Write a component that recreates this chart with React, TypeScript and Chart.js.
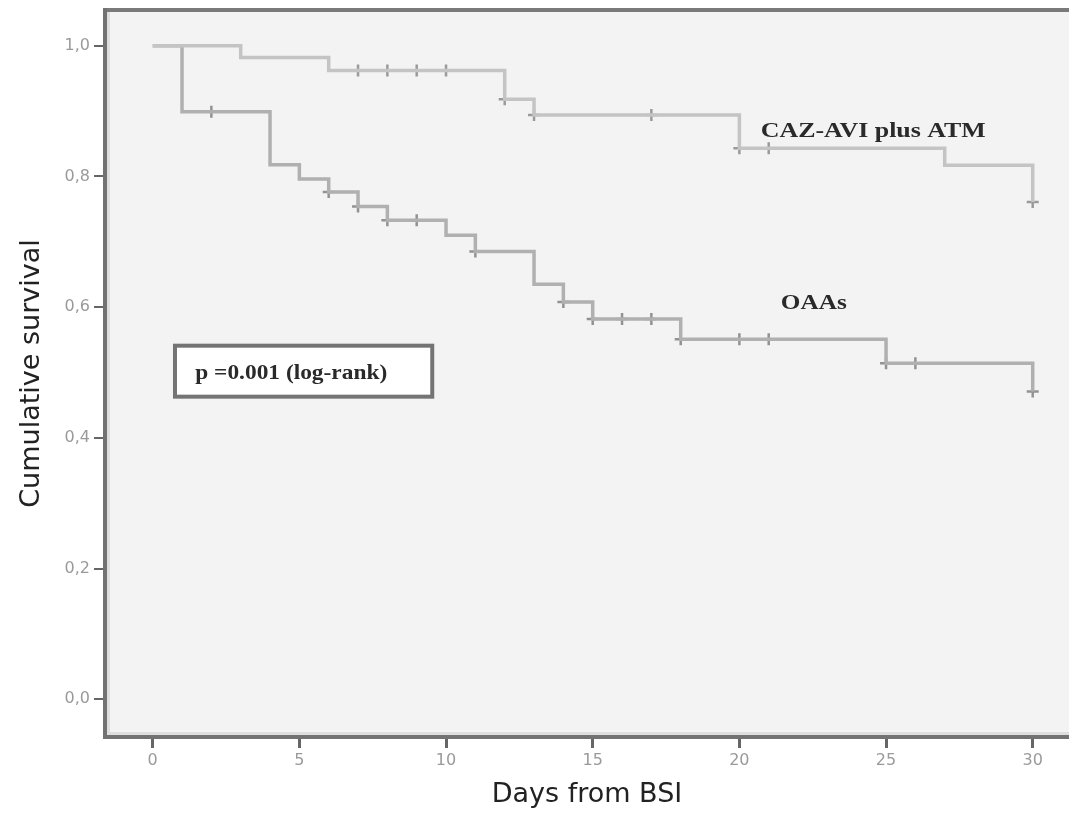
import React, { useEffect, useRef } from 'react';
import { Chart, registerables } from 'chart.js';

Chart.register(...registerables);

// ---- Data ----
const X_TICKS = [0, 5, 10, 15, 20, 25, 30];
const Y_TICKS = [0, 0.2, 0.4, 0.6, 0.8, 1.0];

const CAZ_TIMES = [0, 3, 6, 12, 13, 20, 27, 30];
const CAZ_SURV = [1.0, 0.982, 0.962, 0.918, 0.894, 0.843, 0.817, 0.761];
const CAZ_CENSORED = [7, 8, 9, 10, 12, 13, 17, 20, 21, 30];

const OAA_TIMES = [0, 1, 4, 5, 6, 7, 8, 10, 11, 13, 14, 15, 18, 25, 30];
const OAA_SURV = [1.0, 0.899, 0.818, 0.796, 0.776, 0.754, 0.733, 0.71, 0.685, 0.635, 0.608, 0.582, 0.551, 0.514, 0.471];
const OAA_CENSORED = [2, 6, 7, 8, 9, 11, 14, 15, 16, 17, 18, 20, 21, 25, 26, 30];

const CAZ_LABEL = 'CAZ-AVI plus ATM';
const OAA_LABEL = 'OAAs';
const P_LABEL = 'p =0.001 (log-rank)';
const X_TITLE = 'Days from BSI';
const Y_TITLE = 'Cumulative survival';

// ---- Layout / style constants ----
const W = 1069;
const H = 815;
const X_MIN = -1.626;
const X_MAX = 31.237;
const Y_MIN = -0.0577;
const Y_MAX = 1.0546;

function survAt(times: number[], surv: number[], t: number): number {
  let v = surv[0];
  for (let i = 0; i < times.length; i++) {
    if (times[i] <= t) v = surv[i];
  }
  return v;
}

function drawStretched(
  ctx: CanvasRenderingContext2D,
  text: string,
  x: number,
  y: number,
  font: string,
  width: number,
  color: string
) {
  ctx.save();
  ctx.font = font;
  ctx.fillStyle = color;
  ctx.textAlign = 'left';
  ctx.textBaseline = 'alphabetic';
  const w = ctx.measureText(text).width;
  ctx.translate(x, y);
  ctx.scale(width / w, 1);
  ctx.fillText(text, 0, 0);
  ctx.restore();
}

const framePlugin = {
  id: 'kmFrame',
  beforeDraw(chart: any) {
    const { ctx, chartArea: a } = chart;
    ctx.save();
    ctx.fillStyle = '#f3f3f3';
    ctx.fillRect(a.left, a.top, a.right - a.left, a.bottom - a.top);
    ctx.fillStyle = '#dedede';
    ctx.fillRect(a.left + 1, a.top, 4, a.bottom - a.top);
    ctx.fillRect(a.left, a.bottom - 5, a.right - a.left, 4);
    ctx.strokeStyle = '#7a7a7a';
    ctx.lineWidth = 4;
    ctx.beginPath();
    ctx.moveTo(a.left - 2, a.top);
    ctx.lineTo(a.right, a.top);
    ctx.stroke();
    ctx.restore();
  },
  afterDatasetsDraw(chart: any) {
    const { ctx } = chart;
    const xs = chart.scales.x;
    const ys = chart.scales.y;
    const px = (v: number) => xs.getPixelForValue(v);
    const py = (v: number) => ys.getPixelForValue(v);

    // p-value box
    const bx0 = px(0.76), bx1 = px(9.53);
    const by0 = py(0.541), by1 = py(0.463);
    ctx.save();
    ctx.fillStyle = '#ffffff';
    ctx.fillRect(bx0, by0, bx1 - bx0, by1 - by0);
    ctx.strokeStyle = '#747474';
    ctx.lineWidth = 4;
    ctx.strokeRect(bx0, by0, bx1 - bx0, by1 - by0);
    ctx.restore();
    drawStretched(ctx, P_LABEL, px(1.45), py(0.4893), 'bold 20px "Liberation Serif"', 192, '#2a2a2a');

    // curve labels
    drawStretched(ctx, CAZ_LABEL, px(20.73), py(0.8596), 'bold 22px "Liberation Serif"', 225, '#2a2a2a');
    drawStretched(ctx, OAA_LABEL, px(21.41), py(0.5964), 'bold 22px "Liberation Serif"', 66, '#2a2a2a');
  },
};

export default function App() {
  const canvasRef = useRef<HTMLCanvasElement | null>(null);

  useEffect(() => {
    const canvas = canvasRef.current;
    if (!canvas) return;

    const cazLine = CAZ_TIMES.map((t, i) => ({ x: t, y: CAZ_SURV[i] }));
    const oaaLine = OAA_TIMES.map((t, i) => ({ x: t, y: OAA_SURV[i] }));
    const cazCens = CAZ_CENSORED.map((t) => ({ x: t, y: survAt(CAZ_TIMES, CAZ_SURV, t) }));
    const oaaCens = OAA_CENSORED.map((t) => ({ x: t, y: survAt(OAA_TIMES, OAA_SURV, t) }));

    const tickFont = { family: '"DejaVu Sans"', size: 16 };
    const titleFont = { family: '"DejaVu Sans"', size: 27 };

    const chart = new Chart(canvas, {
      type: 'line',
      data: {
        datasets: [
          {
            label: 'CAZ-AVI plus ATM',
            data: cazLine,
            stepped: 'before',
            borderColor: '#c4c4c4',
            borderWidth: 3.5,
            pointRadius: 0,
            fill: false,
          },
          {
            label: 'OAAs',
            data: oaaLine,
            stepped: 'before',
            borderColor: '#b0b0b0',
            borderWidth: 3.5,
            pointRadius: 0,
            fill: false,
          },
          {
            label: 'CAZ censored',
            data: cazCens,
            showLine: false,
            pointStyle: 'cross',
            pointRadius: 6,
            borderColor: '#9a9a9a',
            borderWidth: 2.5,
          },
          {
            label: 'OAAs censored',
            data: oaaCens,
            showLine: false,
            pointStyle: 'cross',
            pointRadius: 6,
            borderColor: '#929292',
            borderWidth: 2.5,
          },
        ],
      } as any,
      options: {
        animation: false,
        responsive: false,
        devicePixelRatio: 1,
        layout: { autoPadding: false, padding: { top: 10, left: 0, right: 0, bottom: 0 } },
        plugins: {
          legend: { display: false },
          tooltip: { enabled: false },
        },
        scales: {
          x: {
            type: 'linear',
            min: X_MIN,
            max: X_MAX,
            afterBuildTicks: (s: any) => {
              s.ticks = X_TICKS.map((v) => ({ value: v }));
            },
            afterFit: (s: any) => {
              s.height = 78;
              s.paddingLeft = 0;
              s.paddingRight = 0;
            },
            grid: {
              drawOnChartArea: false,
              drawTicks: true,
              tickLength: 11,
              color: '#666666',
              lineWidth: 3,
            },
            border: { display: true, color: '#727272', width: 4 },
            ticks: {
              color: '#9a9a9a',
              font: tickFont,
              padding: 3,
              maxRotation: 0,
              autoSkip: false,
              callback: (v: any) => String(v),
            },
            title: {
              display: true,
              text: X_TITLE,
              color: '#222222',
              font: titleFont,
              padding: { top: 0, bottom: 4 },
            },
          },
          y: {
            type: 'linear',
            min: Y_MIN,
            max: Y_MAX,
            afterBuildTicks: (s: any) => {
              s.ticks = Y_TICKS.map((v) => ({ value: v }));
            },
            afterFit: (s: any) => {
              s.width = 105;
              s.paddingTop = 0;
              s.paddingBottom = 0;
            },
            grid: {
              drawOnChartArea: false,
              drawTicks: true,
              tickLength: 11,
              color: '#666666',
              lineWidth: 2,
            },
            border: { display: true, color: '#727272', width: 4 },
            ticks: {
              color: '#9a9a9a',
              font: tickFont,
              padding: 4,
              autoSkip: false,
              callback: (v: any) => Number(v).toFixed(1).replace('.', ','),
            },
            title: {
              display: true,
              text: Y_TITLE,
              color: '#222222',
              font: titleFont,
              padding: { top: 16, bottom: 0 },
            },
          },
        },
      } as any,
      plugins: [framePlugin],
    });

    return () => {
      chart.destroy();
    };
  }, []);

  return (
    <div style={{ position: 'absolute', left: 0, top: 0, width: W, height: H, background: '#ffffff' }}>
      <canvas ref={canvasRef} width={W} height={H} style={{ display: 'block', width: W, height: H }} />
    </div>
  );
}
